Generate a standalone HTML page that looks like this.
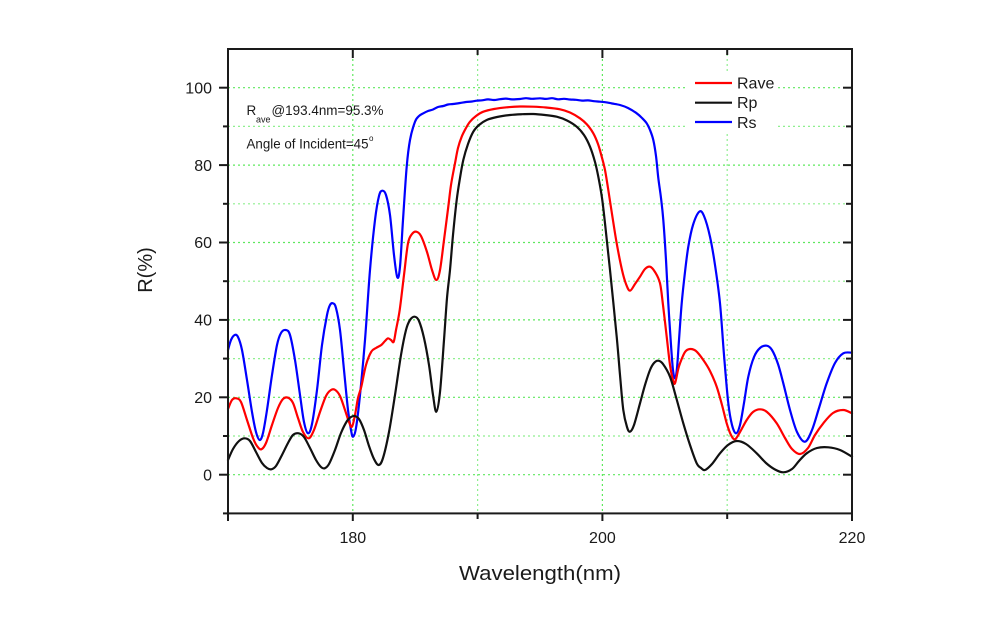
<!DOCTYPE html>
<html>
<head>
<meta charset="utf-8">
<style>
  html, body { margin: 0; padding: 0; background: #ffffff; }
  svg { display: block; }
  text { font-family: "Liberation Sans", Arial, sans-serif; fill: #1a1a1a; }
</style>
</head>
<body>
<svg id="chart" width="1000" height="618" viewBox="0 0 1000 618" xmlns="http://www.w3.org/2000/svg">
  <rect x="0" y="0" width="1000" height="618" fill="#ffffff"/>

  <!-- grid -->
  <g stroke="#5fe85f" stroke-width="1.2" stroke-dasharray="2,3" fill="none">
    <line x1="228" y1="474.7" x2="852" y2="474.7"/>
    <line x1="228" y1="436" x2="852" y2="436" opacity="0.7"/>
    <line x1="228" y1="397.3" x2="852" y2="397.3"/>
    <line x1="228" y1="358.6" x2="852" y2="358.6" opacity="0.7"/>
    <line x1="228" y1="319.9" x2="852" y2="319.9"/>
    <line x1="228" y1="281.2" x2="852" y2="281.2" opacity="0.7"/>
    <line x1="228" y1="242.5" x2="852" y2="242.5"/>
    <line x1="228" y1="203.8" x2="852" y2="203.8" opacity="0.7"/>
    <line x1="228" y1="165.1" x2="852" y2="165.1"/>
    <line x1="228" y1="126.4" x2="852" y2="126.4" opacity="0.7"/>
    <line x1="228" y1="87.7" x2="852" y2="87.7"/>
    <line x1="352.8" y1="49" x2="352.8" y2="513.4"/>
    <line x1="477.6" y1="49" x2="477.6" y2="513.4" opacity="0.7"/>
    <line x1="602.4" y1="49" x2="602.4" y2="513.4"/>
    <line x1="727.2" y1="49" x2="727.2" y2="513.4" opacity="0.7"/>
  </g>

  <!-- legend background -->
  <rect x="688" y="72" width="90" height="61" fill="#ffffff"/>

  <!-- curves -->
  <g id="curves" fill="none" stroke-width="2.2" stroke-linejoin="round" stroke-linecap="round">
    <!-- Rs blue -->
    <polyline stroke="#0000ff" points="228,350 231,340 234.7,335 238,337 242,350 247,380 252,412 256,432 259.7,440 263,433 267,410 272,375 277,345 281,333 285.7,330 290,335 295,360 300,395 304,422 308,433.3 312,424 317,390 322,345 327,315 330,305 333,303.3 336,308 340,330 344,370 348,410 351,430 353,436.7 356,428 360,395 365,340 370,270 375,220 379,196 382.3,190.7 386,195 390,215 394,255 397.3,277.3 400,266.7 403,220 406.7,166.7 410,140 415,121.7 419,116 423.3,113.3 428,111 433,109.5 438,107 443.3,106 448,104.5 453,104 460,103 466,102 472,101.5 476.7,100.7 482,100.3 488,99.4 494,100 500,99.2 506,98.6 512,99.4 520,99 526,98.2 532,98.8 540,98.3 546,98.9 552,98.2 558,99.3 564,98.8 570,99.5 576,99.8 582,100.6 588,100.4 594,101.2 600,101.7 606,102.3 612,103.5 620,105 628,108 636.7,113.3 642,118 646.7,123.3 650,130 653.3,140 656,156 658.3,178 661,198 663.3,220 666,260 668.3,303.3 671,345 673,370 675,378.3 677,368 679,340 681.7,303.3 685,272 688.3,246.7 693,225 699.3,211.7 704,216 710,236.7 715,265 720,303.3 724,355 728.3,403.3 732,425 736,433.3 740,425 744,403 748.3,376.7 754,357 760,348 766.7,345.7 772,350 778,364 783.3,383.3 790,410 797,432 805,441.7 812,430 819,408 826.7,383.3 835,363 843.3,353.3 852,352.7"/>
    <!-- Rave red -->
    <polyline stroke="#ff0000" points="228,409 232,400 236.3,398.3 241,402 247,420 253,438 257,446 261.3,449.3 266,443 272,425 278,408 283,399 288,397.7 293,403 298,418 303,432 308.7,438.3 314,430 320,412 326,396 331,390 335.3,390 340,396 345,410 349,422 352,426.7 355,415 358,398 361.3,386.7 366,365 371.3,351.7 376,348 381.3,345 385,341 388,338.3 391,340 393.7,341.7 396,330 399.7,310 404,275 408,243.3 412,234 416.3,231.7 421,236 427,252 432,270 436.3,280 440,270 444,240 448.3,206.7 451,185 455,163.3 458,148 461.7,136.7 466,128 470,121.7 476,116 483.3,111.7 494,109 506.7,107.3 520,106.5 533.3,106.7 546,107.5 560,109.3 570,112.5 580,118.3 587,124.5 593.3,133.3 598,144 601.7,156.7 605,170 608.3,190 612,214 616.7,243.3 622,270 626,284 630,290.7 635,284 640,276.7 645,269 650,266.7 655,272 660,283.3 663,305 666.7,336.7 670,365 673,380 675,383.3 678,370 680,363.3 685,352 690,349 696,351 703.3,360 710,371 716.7,386.7 722,405 726.7,423.3 731,435 735,439.3 740,432 746.7,420 753,412 760,409.3 767,412 776.7,423.3 785,438 792,449 800,454 808,448 815,435 823.3,423.3 833,413 843.3,410 852,413.3"/>
    <!-- Rp black -->
    <polyline stroke="#111111" points="228,460 233,449 239,441 244.7,438.3 250,441 256,452 262,463 267,468 271.3,469.3 276,466 282,455 288,443 293,435 298.7,433.3 304,437 310,448 316,460 321,467 324.7,468.3 329,464 335,450 341,433 347,421 351,417 354.7,416 359,419 364,430 369,446 374,459 378.7,465 383,458 389,432 395,395 401,355 406,330 410,320 414.7,316.7 419,321 424,338 429,365 433,395 436.3,411.7 440,392 444,340 447,298 450,270 453,235 456.7,200 460,178 463.3,160 468,144 473.3,131.7 479,125 486.7,120 497,117 510,115 522,114.2 533.3,114 545,115 556.7,116.7 567,120.5 576.7,126.7 584,135 590,146.7 595,162 598.3,176.7 602,198 605,223.3 610,270 616.7,336.7 620,375 623.3,410 627,427 630,431.7 634,425 640,403.3 645,385 650,370 654,363 658.3,360.7 663,364 670,376.7 676,397 683.3,423.3 690,445 696.7,463.3 701,468 705,470 712,464 720,453.3 728,445 736.7,441 746,444 756.7,453.3 766,463 775,469.5 783.3,472.3 792,469 799,461 806.7,453.3 817,448 828.3,447.3 840,450 852,456.7"/>
  </g>

  <!-- axes frame -->
  <rect x="228" y="49" width="624" height="464.4" fill="none" stroke="#1a1a1a" stroke-width="2"/>

  <!-- ticks -->
  <g stroke="#1a1a1a" stroke-width="2">
    <line x1="219" y1="474.7" x2="228" y2="474.7"/>
    <line x1="223" y1="436" x2="228" y2="436"/>
    <line x1="219" y1="397.3" x2="228" y2="397.3"/>
    <line x1="223" y1="358.6" x2="228" y2="358.6"/>
    <line x1="219" y1="319.9" x2="228" y2="319.9"/>
    <line x1="223" y1="281.2" x2="228" y2="281.2"/>
    <line x1="219" y1="242.5" x2="228" y2="242.5"/>
    <line x1="223" y1="203.8" x2="228" y2="203.8"/>
    <line x1="219" y1="165.1" x2="228" y2="165.1"/>
    <line x1="223" y1="126.4" x2="228" y2="126.4"/>
    <line x1="219" y1="87.7" x2="228" y2="87.7"/>
    <line x1="223" y1="513.4" x2="228" y2="513.4"/>
    <line x1="843" y1="474.7" x2="852" y2="474.7"/>
    <line x1="846" y1="436" x2="852" y2="436"/>
    <line x1="843" y1="397.3" x2="852" y2="397.3"/>
    <line x1="846" y1="358.6" x2="852" y2="358.6"/>
    <line x1="843" y1="319.9" x2="852" y2="319.9"/>
    <line x1="846" y1="281.2" x2="852" y2="281.2"/>
    <line x1="843" y1="242.5" x2="852" y2="242.5"/>
    <line x1="846" y1="203.8" x2="852" y2="203.8"/>
    <line x1="843" y1="165.1" x2="852" y2="165.1"/>
    <line x1="846" y1="126.4" x2="852" y2="126.4"/>
    <line x1="843" y1="87.7" x2="852" y2="87.7"/>
    <line x1="228" y1="513.4" x2="228" y2="521"/>
    <line x1="352.8" y1="513.4" x2="352.8" y2="521"/>
    <line x1="477.6" y1="513.4" x2="477.6" y2="519"/>
    <line x1="602.4" y1="513.4" x2="602.4" y2="521"/>
    <line x1="727.2" y1="513.4" x2="727.2" y2="519"/>
    <line x1="852" y1="513.4" x2="852" y2="521"/>
    <line x1="352.8" y1="49" x2="352.8" y2="58"/>
    <line x1="477.6" y1="49" x2="477.6" y2="55"/>
    <line x1="602.4" y1="49" x2="602.4" y2="58"/>
    <line x1="727.2" y1="49" x2="727.2" y2="55"/>
  </g>

  <!-- y tick labels -->
  <g font-size="16" text-anchor="end">
    <text x="212" y="480.5">0</text>
    <text x="212" y="403">20</text>
    <text x="212" y="325.6">40</text>
    <text x="212" y="248.2">60</text>
    <text x="212" y="170.8">80</text>
    <text x="212" y="93.4">100</text>
  </g>
  <!-- x tick labels -->
  <g font-size="16" text-anchor="middle">
    <text x="352.8" y="543">180</text>
    <text x="602.4" y="543">200</text>
    <text x="852" y="543">220</text>
  </g>

  <!-- axis titles -->
  <text x="540" y="580" font-size="20" text-anchor="middle" textLength="162" lengthAdjust="spacingAndGlyphs">Wavelength(nm)</text>
  <text transform="translate(152,270) rotate(-90)" font-size="20" text-anchor="middle">R(%)</text>

  <!-- annotations -->
  <text x="246.5" y="115" font-size="13.5">R</text>
  <text x="256" y="122.5" font-size="9">ave</text>
  <text x="271.5" y="115" font-size="13.5" textLength="112" lengthAdjust="spacingAndGlyphs">@193.4nm=95.3%</text>
  <text x="246.5" y="148.5" font-size="13.5" textLength="122" lengthAdjust="spacingAndGlyphs">Angle of Incident=45</text>
  <text x="369" y="141" font-size="8">o</text>

  <!-- legend -->
  <g stroke-width="2.2">
    <line x1="695" y1="83" x2="732" y2="83" stroke="#ff0000"/>
    <line x1="695" y1="102.7" x2="732" y2="102.7" stroke="#111111"/>
    <line x1="695" y1="122" x2="732" y2="122" stroke="#0000ff"/>
  </g>
  <g font-size="16">
    <text x="737" y="88.5">Rave</text>
    <text x="737" y="108">Rp</text>
    <text x="737" y="128">Rs</text>
  </g>
</svg>
<script>
(function(){
  var NS = "http://www.w3.org/2000/svg";
  var lines = document.querySelectorAll("#curves polyline");
  for (var k = 0; k < lines.length; k++) {
    var pl = lines[k];
    var raw = pl.getAttribute("points").trim().split(/\s+/);
    var p = raw.map(function(s){ var a = s.split(","); return [parseFloat(a[0]), parseFloat(a[1])]; });
    var n = p.length;
    var d = "M" + p[0][0] + "," + p[0][1];
    for (var i = 0; i < n - 1; i++) {
      var p0 = p[i > 0 ? i - 1 : i], p1 = p[i], p2 = p[i + 1], p3 = p[i + 2 < n ? i + 2 : i + 1];
      var c1x = p1[0] + (p2[0] - p0[0]) / 6, c1y = p1[1] + (p2[1] - p0[1]) / 6;
      var c2x = p2[0] - (p3[0] - p1[0]) / 6, c2y = p2[1] - (p3[1] - p1[1]) / 6;
      d += " C" + c1x.toFixed(2) + "," + c1y.toFixed(2) + " " + c2x.toFixed(2) + "," + c2y.toFixed(2) + " " + p2[0] + "," + p2[1];
    }
    var path = document.createElementNS(NS, "path");
    path.setAttribute("d", d);
    path.setAttribute("stroke", pl.getAttribute("stroke"));
    pl.parentNode.replaceChild(path, pl);
  }
})();
</script>
</body>
</html>
